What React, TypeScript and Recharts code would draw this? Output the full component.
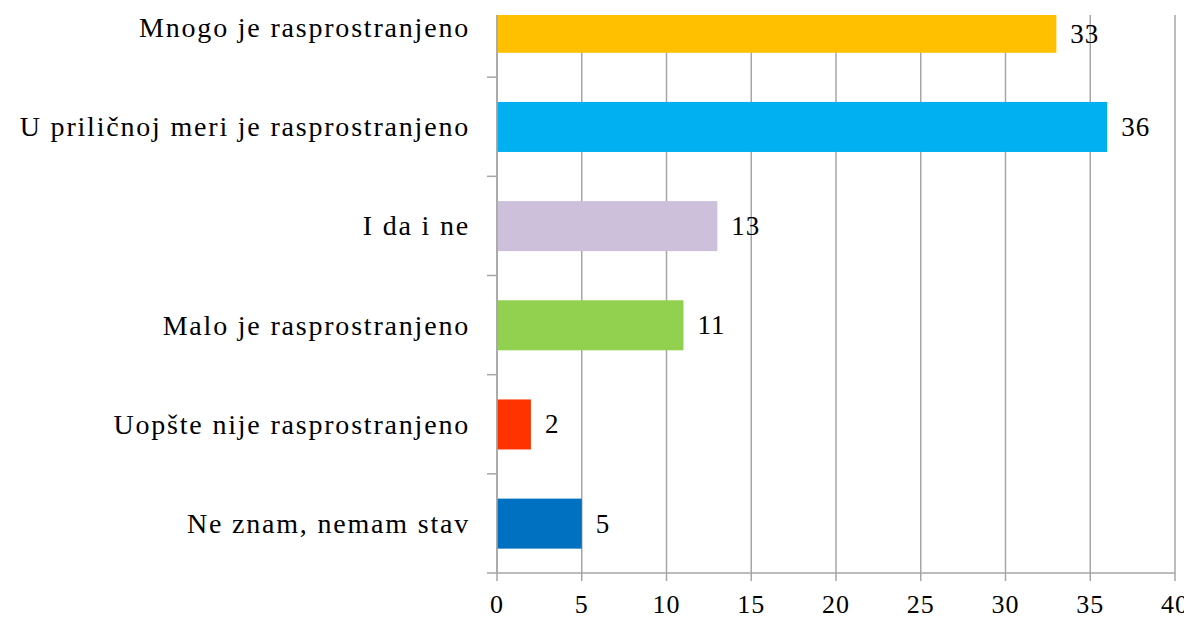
import React from 'react';
import { BarChart, Bar, XAxis, YAxis, CartesianGrid, Cell, LabelList } from 'recharts';

const categories = [
  'Mnogo je rasprostranjeno',
  'U priličnoj meri je rasprostranjeno',
  'I da i ne',
  'Malo je rasprostranjeno',
  'Uopšte nije rasprostranjeno',
  'Ne znam, nemam stav',
];
const values = [33, 36, 13, 11, 2, 5];
const colors = ['#FFC000', '#00B0F0', '#CCC0DA', '#92D050', '#FF3300', '#0070C0'];
const xTicks = [0, 5, 10, 15, 20, 25, 30, 35, 40];

const data = categories.map((c, i) => ({ name: c, value: values[i] }));

const FONT = '"Liberation Serif", serif';
const GRID = '#A6A6A6';
const CHART_W = 1184;
const CHART_H = 619;
const MARGIN_TOP = 7;
const X_AXIS_H = 54;
const Y_AXIS_W = 489;
const PAD_TOP = -37;
const PLOT_H = CHART_H - MARGIN_TOP - X_AXIS_H;
const BAND = (PLOT_H - PAD_TOP) / categories.length;

const ClampedBar = (props: any) => {
  const { x, y, width, height, fill } = props;
  const top = Math.max(y, MARGIN_TOP);
  const h = y + height - top;
  if (h <= 0 || width <= 0) return null;
  return <rect x={x} y={top} width={width} height={h} fill={fill} />;
};

const ValueLabel = (props: any) => {
  const { viewBox, value } = props;
  const top = Math.max(viewBox.y, MARGIN_TOP);
  const bottom = viewBox.y + viewBox.height;
  const cy = (top + bottom) / 2;
  return (
    <text
      x={viewBox.x + viewBox.width + 14}
      y={cy}
      dominantBaseline="central"
      fontFamily={FONT}
      fontSize={27}
      letterSpacing={1}
      fill="#000"
    >
      {value}
    </text>
  );
};

const CategoryTick = (props: any) => {
  const { x, y, payload } = props;
  const by = y + BAND / 2;
  return (
    <g>
      <text
        x={x}
        y={y}
        textAnchor="end"
        dominantBaseline="central"
        fontFamily={FONT}
        fontSize={28}
        letterSpacing={1.8}
        fill="#000"
      >
        {payload.value}
      </text>
      <line x1={Y_AXIS_W - 10} x2={Y_AXIS_W} y1={by} y2={by} stroke={GRID} strokeWidth={1.5} />
    </g>
  );
};

export default function App() {
  return (
    <BarChart
      width={CHART_W}
      height={CHART_H}
      data={data}
      layout="vertical"
      margin={{ top: MARGIN_TOP, right: 17, bottom: 0, left: 0 }}
      barCategoryGap="25%"
    >
      <CartesianGrid horizontal={false} vertical stroke={GRID} strokeWidth={1.5} />
      <XAxis
        type="number"
        domain={[0, 40]}
        ticks={xTicks}
        interval={0}
        height={X_AXIS_H}
        axisLine={{ stroke: GRID, strokeWidth: 1.5 }}
        tickLine={{ stroke: GRID, strokeWidth: 1.5 }}
        tickSize={8}
        tickMargin={14}
        tick={{ fontFamily: FONT, fontSize: 26, fill: '#000', letterSpacing: 1 }}
      />
      <YAxis
        type="category"
        dataKey="name"
        width={Y_AXIS_W}
        padding={{ top: PAD_TOP, bottom: 0 }}
        axisLine={{ stroke: GRID, strokeWidth: 1.5 }}
        tickLine={false}
        tickSize={0}
        tickMargin={27}
        interval={0}
        tick={<CategoryTick />}
      />
      <Bar dataKey="value" isAnimationActive={false} shape={<ClampedBar />}>
        {data.map((d, i) => (
          <Cell key={d.name} fill={colors[i]} />
        ))}
        <LabelList dataKey="value" content={<ValueLabel />} />
      </Bar>
    </BarChart>
  );
}
